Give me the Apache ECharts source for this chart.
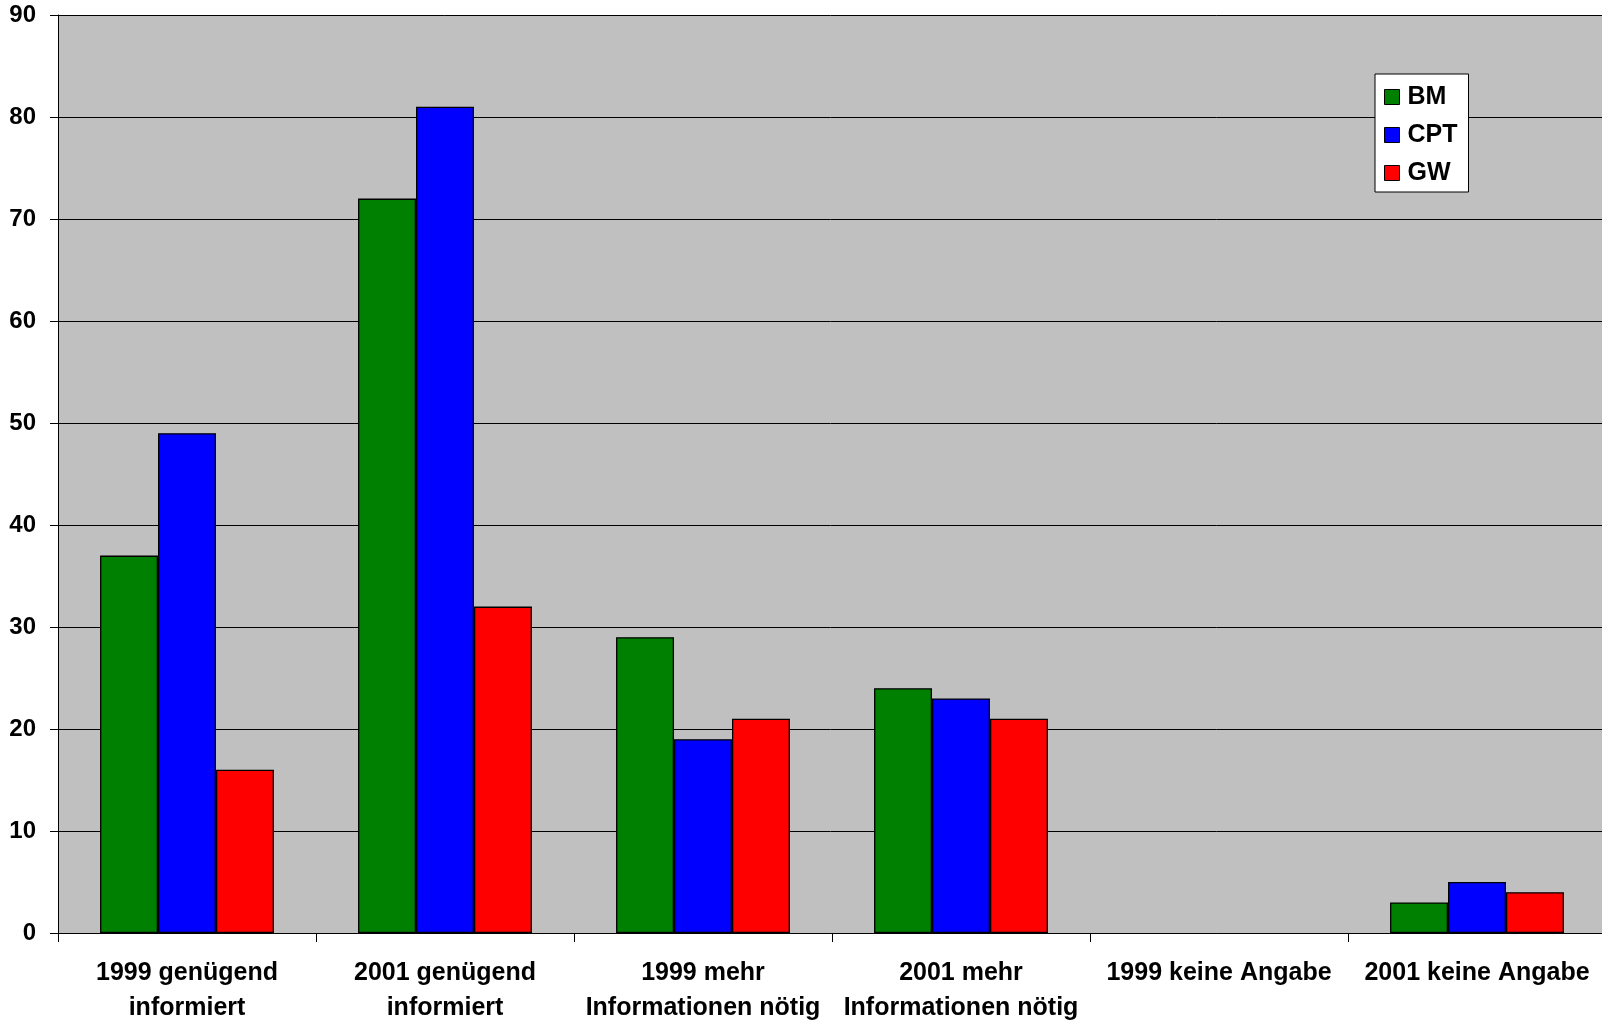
<!DOCTYPE html>
<html><head><meta charset="utf-8">
<script src="https://cdn.jsdelivr.net/npm/echarts@6/dist/echarts.min.js"></script>
<style>html,body{margin:0;padding:0;background:#fff}#c{width:1602px;height:1021px}</style>
</head><body><div id="c"></div>
<script>
var categories = ['1999 genügend\ninformiert','2001 genügend\ninformiert','1999 mehr\nInformationen nötig','2001 mehr\nInformationen nötig','1999 keine Angabe','2001 keine Angabe'];
var seriesNames = ['BM','CPT','GW'];
var bmValues = [37, 72, 29, 24, null, 3];
var cptValues = [49, 81, 19, 23, null, 5];
var gwValues = [16, 32, 21, 21, null, 4];
var colors = ['#008000','#0000FF','#FF0000'];
var yTicks = {min:0, max:90, interval:10};

var chart = echarts.init(document.getElementById('c'), null, {renderer:'canvas'});
var font = 'Liberation Sans, Arial, sans-serif';
function mk(name, data, i){
  return {name:name, type:'bar', data:data, barGap:'0%', barCategoryGap:'32.6%',
    itemStyle:{color:colors[i], borderColor:'#000', borderWidth:1.3}};
}
chart.setOption({
  animation:false,
  grid:{left:58, top:15, width:1548, height:918, backgroundColor:'#C0C0C0', show:true, borderWidth:0,
    outerBoundsMode:'none', containLabel:false},
  legend:{
    data:seriesNames, orient:'vertical', left:1375, top:74,
    backgroundColor:'#fff', borderColor:'#000', borderWidth:1,
    padding:[10,11,6,9], itemGap:12, itemWidth:15, itemHeight:15, icon:'rect',
    itemStyle:{borderColor:'#000', borderWidth:1},
    textStyle:{fontFamily:font, fontWeight:'bold', fontSize:25, color:'#000', padding:[0,0,0,3], height:26, lineHeight:26}
  },
  xAxis:{type:'category', data:categories,
    axisLine:{lineStyle:{color:'#000', width:1}},
    axisTick:{show:true, length:9, lineStyle:{color:'#000'}},
    axisLabel:{fontFamily:font, fontWeight:'bold', fontSize:25, color:'#000', margin:23, lineHeight:35, interval:0}
  },
  yAxis:{type:'value', min:yTicks.min, max:yTicks.max, interval:yTicks.interval,
    axisLine:{show:true, lineStyle:{color:'#000', width:1}},
    axisTick:{show:true, length:8, lineStyle:{color:'#000'}},
    axisLabel:{fontFamily:font, fontWeight:'bold', fontSize:24, color:'#000', margin:22},
    splitLine:{show:true, lineStyle:{color:'#000', width:1}}
  },
  series:[mk('BM',bmValues,0), mk('CPT',cptValues,1), mk('GW',gwValues,2)]
});
</script></body></html>
